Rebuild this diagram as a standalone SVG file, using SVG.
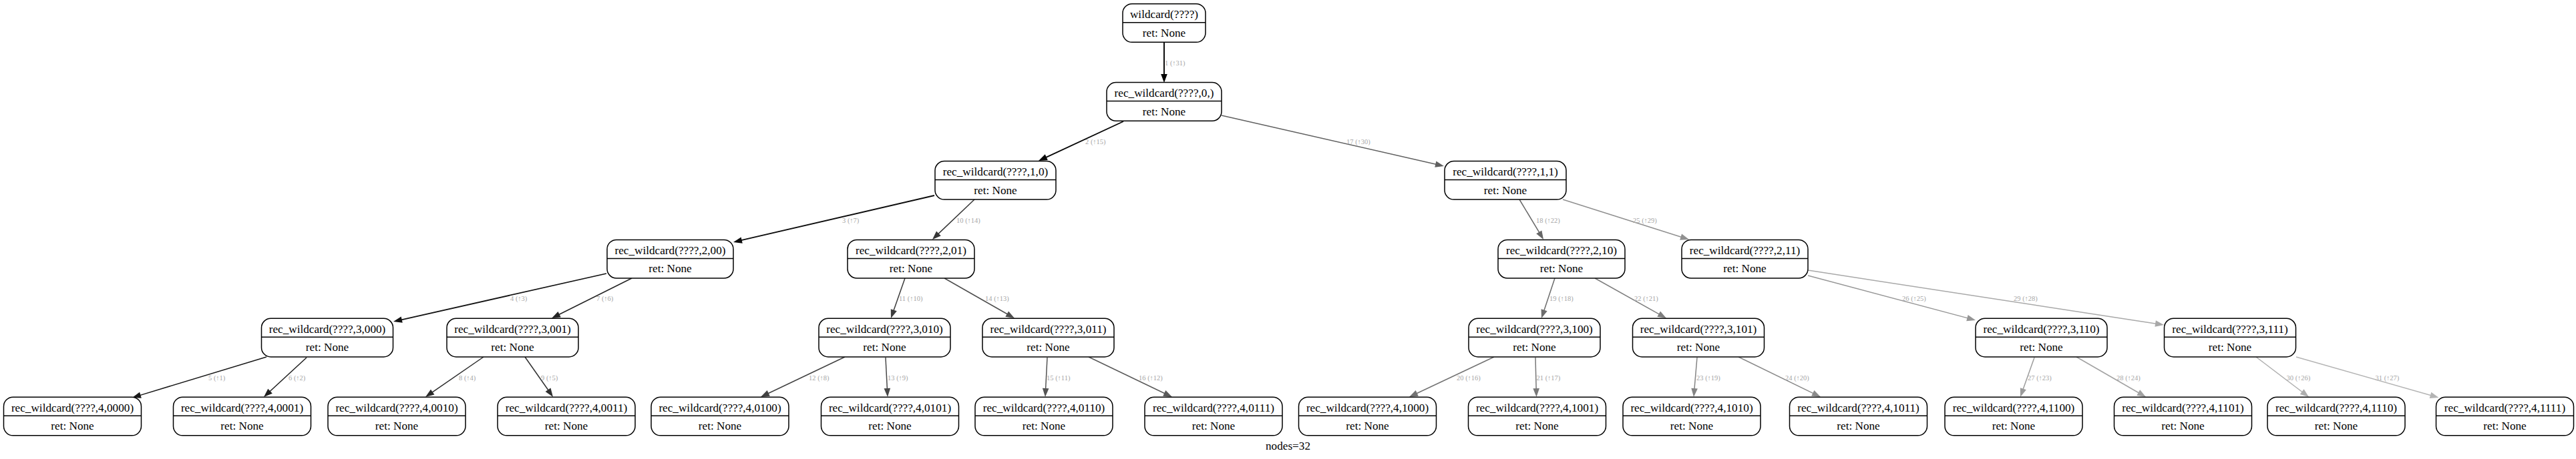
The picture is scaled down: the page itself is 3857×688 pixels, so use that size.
<svg xmlns="http://www.w3.org/2000/svg" xmlns:xlink="http://www.w3.org/1999/xlink" width="3857" height="688" viewBox="0 0 3857 688">
<style>
.nd rect{fill:#fff;stroke:#000;stroke-width:1.5}
.nd line{stroke:#000;stroke-width:1.5}
.nd text,.lbl{font-family:"Liberation Serif","Times New Roman",serif;font-size:17.2px;text-anchor:middle;fill:#000}
.el{font-family:"Liberation Serif","Times New Roman",serif;font-size:10.5px;fill:#a6a6a6}
#edges line{fill:none;stroke-width:1.5}
</style>
<defs>
<polygon id="ah" points="0,0 -13,-4.8 -13,4.8"/>
</defs>
<rect width="3857" height="688" fill="#fff"/>
<g id="edges">
<g id="e1"><line x1="1743" y1="63.3" x2="1743" y2="114" stroke="#000000" style="stroke-width:1.9"/><use xlink:href="#ah" transform="translate(1743,124) rotate(90)" fill="#000000"/><text class="el" x="1744" y="97.5">1 (↑31)</text></g>
<g id="e2"><line x1="1682" y1="182" x2="1564.1" y2="236.8" stroke="#060606" style="stroke-width:1.85"/><use xlink:href="#ah" transform="translate(1555,241) rotate(155.1)" fill="#060606"/><text class="el" x="1625" y="215.5">2 (↑15)</text></g>
<g id="e17"><line x1="1829" y1="173" x2="2152.3" y2="246.8" stroke="#606060"/><use xlink:href="#ah" transform="translate(2162,249) rotate(12.86)" fill="#606060"/><text class="el" x="2016" y="215.5">17 (↑30)</text></g>
<g id="e3"><line x1="1399" y1="293" x2="1107.7" y2="360.7" stroke="#0c0c0c" style="stroke-width:1.8"/><use xlink:href="#ah" transform="translate(1098,363) rotate(166.9)" fill="#0c0c0c"/><text class="el" x="1261" y="333.5">3 (↑7)</text></g>
<g id="e10"><line x1="1459" y1="299" x2="1403.2" y2="352.1" stroke="#363636"/><use xlink:href="#ah" transform="translate(1396,359) rotate(136.4)" fill="#363636"/><text class="el" x="1432" y="333.5">10 (↑14)</text></g>
<g id="e18"><line x1="2275" y1="299" x2="2305.9" y2="350.4" stroke="#666666"/><use xlink:href="#ah" transform="translate(2311,359) rotate(59)" fill="#666666"/><text class="el" x="2300" y="333.5">18 (↑22)</text></g>
<g id="e25"><line x1="2340" y1="299" x2="2519.5" y2="356" stroke="#909090"/><use xlink:href="#ah" transform="translate(2529,359) rotate(17.6)" fill="#909090"/><text class="el" x="2445" y="333.5">25 (↑29)</text></g>
<g id="e4"><line x1="908" y1="410" x2="598.8" y2="479.8" stroke="#121212" style="stroke-width:1.75"/><use xlink:href="#ah" transform="translate(589,482) rotate(167.3)" fill="#121212"/><text class="el" x="764" y="451">4 (↑3)</text></g>
<g id="e7"><line x1="946" y1="417" x2="834.9" y2="472.5" stroke="#242424"/><use xlink:href="#ah" transform="translate(826,477) rotate(153.4)" fill="#242424"/><text class="el" x="893" y="451">7 (↑6)</text></g>
<g id="e11"><line x1="1355" y1="417" x2="1337.3" y2="467.6" stroke="#3c3c3c"/><use xlink:href="#ah" transform="translate(1334,477) rotate(109.3)" fill="#3c3c3c"/><text class="el" x="1346" y="451">11 (↑10)</text></g>
<g id="e14"><line x1="1414" y1="417" x2="1510.3" y2="472" stroke="#4e4e4e"/><use xlink:href="#ah" transform="translate(1519,477) rotate(29.7)" fill="#4e4e4e"/><text class="el" x="1475" y="451">14 (↑13)</text></g>
<g id="e19"><line x1="2328" y1="417" x2="2311.2" y2="467.5" stroke="#6c6c6c"/><use xlink:href="#ah" transform="translate(2308,477) rotate(108.4)" fill="#6c6c6c"/><text class="el" x="2320" y="451">19 (↑18)</text></g>
<g id="e22"><line x1="2388" y1="417" x2="2486.3" y2="472.1" stroke="#7e7e7e"/><use xlink:href="#ah" transform="translate(2495,477) rotate(29.3)" fill="#7e7e7e"/><text class="el" x="2447" y="451">22 (↑21)</text></g>
<g id="e26"><line x1="2707" y1="413" x2="2948.3" y2="477.4" stroke="#969696"/><use xlink:href="#ah" transform="translate(2958,480) rotate(14.9)" fill="#969696"/><text class="el" x="2848" y="450.5">26 (↑25)</text></g>
<g id="e29"><line x1="2707" y1="405" x2="3230.1" y2="485.5" stroke="#a8a8a8"/><use xlink:href="#ah" transform="translate(3240,487) rotate(8.75)" fill="#a8a8a8"/><text class="el" x="3015" y="450.5">29 (↑28)</text></g>
<g id="e5"><line x1="399" y1="535" x2="207.6" y2="593.1" stroke="#181818"/><use xlink:href="#ah" transform="translate(198,596) rotate(163.1)" fill="#181818"/><text class="el" x="312" y="569.5">5 (↑1)</text></g>
<g id="e6"><line x1="459" y1="536" x2="402.4" y2="588.2" stroke="#1e1e1e"/><use xlink:href="#ah" transform="translate(395,595) rotate(137.3)" fill="#1e1e1e"/><text class="el" x="432" y="569.5">6 (↑2)</text></g>
<g id="e8"><line x1="724" y1="535" x2="645.2" y2="589.3" stroke="#2a2a2a"/><use xlink:href="#ah" transform="translate(637,595) rotate(145.4)" fill="#2a2a2a"/><text class="el" x="687" y="569.5">8 (↑4)</text></g>
<g id="e9"><line x1="786" y1="535" x2="822.3" y2="586.8" stroke="#303030"/><use xlink:href="#ah" transform="translate(828,595) rotate(55)" fill="#303030"/><text class="el" x="810" y="569.5">9 (↑5)</text></g>
<g id="e12"><line x1="1265" y1="535" x2="1148" y2="590.7" stroke="#424242"/><use xlink:href="#ah" transform="translate(1139,595) rotate(154.5)" fill="#424242"/><text class="el" x="1211" y="569.5">12 (↑8)</text></g>
<g id="e13"><line x1="1326" y1="536" x2="1328.5" y2="585" stroke="#484848"/><use xlink:href="#ah" transform="translate(1329,595) rotate(87.1)" fill="#484848"/><text class="el" x="1329" y="569.5">13 (↑9)</text></g>
<g id="e15"><line x1="1568" y1="536" x2="1565.5" y2="585" stroke="#545454"/><use xlink:href="#ah" transform="translate(1565,595) rotate(92.9)" fill="#545454"/><text class="el" x="1567" y="569.5">15 (↑11)</text></g>
<g id="e16"><line x1="1630" y1="535" x2="1746" y2="590.7" stroke="#5a5a5a"/><use xlink:href="#ah" transform="translate(1755,595) rotate(25.6)" fill="#5a5a5a"/><text class="el" x="1705" y="569.5">16 (↑12)</text></g>
<g id="e20"><line x1="2237" y1="535" x2="2119" y2="590.7" stroke="#727272"/><use xlink:href="#ah" transform="translate(2110,595) rotate(154.7)" fill="#727272"/><text class="el" x="2181" y="569.5">20 (↑16)</text></g>
<g id="e21"><line x1="2299" y1="536" x2="2300.2" y2="585" stroke="#787878"/><use xlink:href="#ah" transform="translate(2300.5,595) rotate(88.5)" fill="#787878"/><text class="el" x="2300.5" y="569.5">21 (↑17)</text></g>
<g id="e23"><line x1="2541" y1="536" x2="2536.8" y2="585" stroke="#848484"/><use xlink:href="#ah" transform="translate(2536,595) rotate(94.8)" fill="#848484"/><text class="el" x="2540" y="569.5">23 (↑19)</text></g>
<g id="e24"><line x1="2603" y1="535" x2="2717" y2="590.6" stroke="#8a8a8a"/><use xlink:href="#ah" transform="translate(2726,595) rotate(26)" fill="#8a8a8a"/><text class="el" x="2673" y="569.5">24 (↑20)</text></g>
<g id="e27"><line x1="3046" y1="536" x2="3028.4" y2="585.6" stroke="#9c9c9c"/><use xlink:href="#ah" transform="translate(3025,595) rotate(109.6)" fill="#9c9c9c"/><text class="el" x="3036" y="569.5">27 (↑23)</text></g>
<g id="e28"><line x1="3109" y1="535" x2="3204.3" y2="590" stroke="#a2a2a2"/><use xlink:href="#ah" transform="translate(3213,595) rotate(30)" fill="#a2a2a2"/><text class="el" x="3169" y="569.5">28 (↑24)</text></g>
<g id="e30"><line x1="3378" y1="535" x2="3449" y2="589" stroke="#aeaeae"/><use xlink:href="#ah" transform="translate(3457,595) rotate(37.2)" fill="#aeaeae"/><text class="el" x="3423.5" y="569.5">30 (↑26)</text></g>
<g id="e31"><line x1="3438" y1="535" x2="3641.9" y2="593.3" stroke="#b4b4b4"/><use xlink:href="#ah" transform="translate(3651.5,596) rotate(15.9)" fill="#b4b4b4"/><text class="el" x="3556.5" y="569.5">31 (↑27)</text></g>
</g>
<g id="nodes">
<g id="n_root" class="nd"><rect x="1681" y="5.7" width="124" height="57.6" rx="14"/><line x1="1681" y1="33.7" x2="1805" y2="33.7"/><text x="1743" y="27.4">wildcard(????)</text><text x="1743" y="54.7">ret: None</text></g>
<g id="n_0" class="nd"><rect x="1657" y="123.6" width="172" height="57.6" rx="14"/><line x1="1657" y1="151.6" x2="1829" y2="151.6"/><text x="1743" y="145.3">rec_wildcard(????,0,)</text><text x="1743" y="172.6">ret: None</text></g>
<g id="n_1_0" class="nd"><rect x="1400" y="241.5" width="181" height="57.6" rx="14"/><line x1="1400" y1="269.5" x2="1581" y2="269.5"/><text x="1490.5" y="263.2">rec_wildcard(????,1,0)</text><text x="1490.5" y="290.5">ret: None</text></g>
<g id="n_1_1" class="nd"><rect x="2163" y="241.5" width="182" height="57.6" rx="14"/><line x1="2163" y1="269.5" x2="2345" y2="269.5"/><text x="2254" y="263.2">rec_wildcard(????,1,1)</text><text x="2254" y="290.5">ret: None</text></g>
<g id="n_2_00" class="nd"><rect x="909" y="359.4" width="189" height="57.6" rx="14"/><line x1="909" y1="387.4" x2="1098" y2="387.4"/><text x="1003.5" y="381.1">rec_wildcard(????,2,00)</text><text x="1003.5" y="408.4">ret: None</text></g>
<g id="n_2_01" class="nd"><rect x="1269" y="359.4" width="190" height="57.6" rx="14"/><line x1="1269" y1="387.4" x2="1459" y2="387.4"/><text x="1364" y="381.1">rec_wildcard(????,2,01)</text><text x="1364" y="408.4">ret: None</text></g>
<g id="n_2_10" class="nd"><rect x="2243" y="359.4" width="190" height="57.6" rx="14"/><line x1="2243" y1="387.4" x2="2433" y2="387.4"/><text x="2338" y="381.1">rec_wildcard(????,2,10)</text><text x="2338" y="408.4">ret: None</text></g>
<g id="n_2_11" class="nd"><rect x="2518" y="359.4" width="189" height="57.6" rx="14"/><line x1="2518" y1="387.4" x2="2707" y2="387.4"/><text x="2612.5" y="381.1">rec_wildcard(????,2,11)</text><text x="2612.5" y="408.4">ret: None</text></g>
<g id="n_3_000" class="nd"><rect x="391.5" y="477.3" width="197" height="57.6" rx="14"/><line x1="391.5" y1="505.3" x2="588.5" y2="505.3"/><text x="490" y="499">rec_wildcard(????,3,000)</text><text x="490" y="526.3">ret: None</text></g>
<g id="n_3_001" class="nd"><rect x="669" y="477.3" width="197" height="57.6" rx="14"/><line x1="669" y1="505.3" x2="866" y2="505.3"/><text x="767.5" y="499">rec_wildcard(????,3,001)</text><text x="767.5" y="526.3">ret: None</text></g>
<g id="n_3_010" class="nd"><rect x="1226" y="477.3" width="197" height="57.6" rx="14"/><line x1="1226" y1="505.3" x2="1423" y2="505.3"/><text x="1324.5" y="499">rec_wildcard(????,3,010)</text><text x="1324.5" y="526.3">ret: None</text></g>
<g id="n_3_011" class="nd"><rect x="1471" y="477.3" width="197" height="57.6" rx="14"/><line x1="1471" y1="505.3" x2="1668" y2="505.3"/><text x="1569.5" y="499">rec_wildcard(????,3,011)</text><text x="1569.5" y="526.3">ret: None</text></g>
<g id="n_3_100" class="nd"><rect x="2199" y="477.3" width="197" height="57.6" rx="14"/><line x1="2199" y1="505.3" x2="2396" y2="505.3"/><text x="2297.5" y="499">rec_wildcard(????,3,100)</text><text x="2297.5" y="526.3">ret: None</text></g>
<g id="n_3_101" class="nd"><rect x="2444.5" y="477.3" width="197" height="57.6" rx="14"/><line x1="2444.5" y1="505.3" x2="2641.5" y2="505.3"/><text x="2543" y="499">rec_wildcard(????,3,101)</text><text x="2543" y="526.3">ret: None</text></g>
<g id="n_3_110" class="nd"><rect x="2958" y="477.3" width="197" height="57.6" rx="14"/><line x1="2958" y1="505.3" x2="3155" y2="505.3"/><text x="3056.5" y="499">rec_wildcard(????,3,110)</text><text x="3056.5" y="526.3">ret: None</text></g>
<g id="n_3_111" class="nd"><rect x="3240.5" y="477.3" width="197" height="57.6" rx="14"/><line x1="3240.5" y1="505.3" x2="3437.5" y2="505.3"/><text x="3339" y="499">rec_wildcard(????,3,111)</text><text x="3339" y="526.3">ret: None</text></g>
<g id="n_4_0000" class="nd"><rect x="5.5" y="595.2" width="206" height="57.6" rx="14"/><line x1="5.5" y1="623.2" x2="211.5" y2="623.2"/><text x="108.5" y="616.9">rec_wildcard(????,4,0000)</text><text x="108.5" y="644.2">ret: None</text></g>
<g id="n_4_0001" class="nd"><rect x="259.5" y="595.2" width="206" height="57.6" rx="14"/><line x1="259.5" y1="623.2" x2="465.5" y2="623.2"/><text x="362.5" y="616.9">rec_wildcard(????,4,0001)</text><text x="362.5" y="644.2">ret: None</text></g>
<g id="n_4_0010" class="nd"><rect x="491" y="595.2" width="206" height="57.6" rx="14"/><line x1="491" y1="623.2" x2="697" y2="623.2"/><text x="594" y="616.9">rec_wildcard(????,4,0010)</text><text x="594" y="644.2">ret: None</text></g>
<g id="n_4_0011" class="nd"><rect x="745" y="595.2" width="206" height="57.6" rx="14"/><line x1="745" y1="623.2" x2="951" y2="623.2"/><text x="848" y="616.9">rec_wildcard(????,4,0011)</text><text x="848" y="644.2">ret: None</text></g>
<g id="n_4_0100" class="nd"><rect x="975" y="595.2" width="206" height="57.6" rx="14"/><line x1="975" y1="623.2" x2="1181" y2="623.2"/><text x="1078" y="616.9">rec_wildcard(????,4,0100)</text><text x="1078" y="644.2">ret: None</text></g>
<g id="n_4_0101" class="nd"><rect x="1229.5" y="595.2" width="206" height="57.6" rx="14"/><line x1="1229.5" y1="623.2" x2="1435.5" y2="623.2"/><text x="1332.5" y="616.9">rec_wildcard(????,4,0101)</text><text x="1332.5" y="644.2">ret: None</text></g>
<g id="n_4_0110" class="nd"><rect x="1460" y="595.2" width="206" height="57.6" rx="14"/><line x1="1460" y1="623.2" x2="1666" y2="623.2"/><text x="1563" y="616.9">rec_wildcard(????,4,0110)</text><text x="1563" y="644.2">ret: None</text></g>
<g id="n_4_0111" class="nd"><rect x="1714" y="595.2" width="206" height="57.6" rx="14"/><line x1="1714" y1="623.2" x2="1920" y2="623.2"/><text x="1817" y="616.9">rec_wildcard(????,4,0111)</text><text x="1817" y="644.2">ret: None</text></g>
<g id="n_4_1000" class="nd"><rect x="1944.5" y="595.2" width="206" height="57.6" rx="14"/><line x1="1944.5" y1="623.2" x2="2150.5" y2="623.2"/><text x="2047.5" y="616.9">rec_wildcard(????,4,1000)</text><text x="2047.5" y="644.2">ret: None</text></g>
<g id="n_4_1001" class="nd"><rect x="2198.5" y="595.2" width="206" height="57.6" rx="14"/><line x1="2198.5" y1="623.2" x2="2404.5" y2="623.2"/><text x="2301.5" y="616.9">rec_wildcard(????,4,1001)</text><text x="2301.5" y="644.2">ret: None</text></g>
<g id="n_4_1010" class="nd"><rect x="2430" y="595.2" width="206" height="57.6" rx="14"/><line x1="2430" y1="623.2" x2="2636" y2="623.2"/><text x="2533" y="616.9">rec_wildcard(????,4,1010)</text><text x="2533" y="644.2">ret: None</text></g>
<g id="n_4_1011" class="nd"><rect x="2679.5" y="595.2" width="206" height="57.6" rx="14"/><line x1="2679.5" y1="623.2" x2="2885.5" y2="623.2"/><text x="2782.5" y="616.9">rec_wildcard(????,4,1011)</text><text x="2782.5" y="644.2">ret: None</text></g>
<g id="n_4_1100" class="nd"><rect x="2912" y="595.2" width="206" height="57.6" rx="14"/><line x1="2912" y1="623.2" x2="3118" y2="623.2"/><text x="3015" y="616.9">rec_wildcard(????,4,1100)</text><text x="3015" y="644.2">ret: None</text></g>
<g id="n_4_1101" class="nd"><rect x="3165.5" y="595.2" width="206" height="57.6" rx="14"/><line x1="3165.5" y1="623.2" x2="3371.5" y2="623.2"/><text x="3268.5" y="616.9">rec_wildcard(????,4,1101)</text><text x="3268.5" y="644.2">ret: None</text></g>
<g id="n_4_1110" class="nd"><rect x="3395" y="595.2" width="206" height="57.6" rx="14"/><line x1="3395" y1="623.2" x2="3601" y2="623.2"/><text x="3498" y="616.9">rec_wildcard(????,4,1110)</text><text x="3498" y="644.2">ret: None</text></g>
<g id="n_4_1111" class="nd"><rect x="3647.5" y="595.2" width="206" height="57.6" rx="14"/><line x1="3647.5" y1="623.2" x2="3853.5" y2="623.2"/><text x="3750.5" y="616.9">rec_wildcard(????,4,1111)</text><text x="3750.5" y="644.2">ret: None</text></g>
</g>
<text class="lbl" x="1928.5" y="674">nodes=32</text>
</svg>
